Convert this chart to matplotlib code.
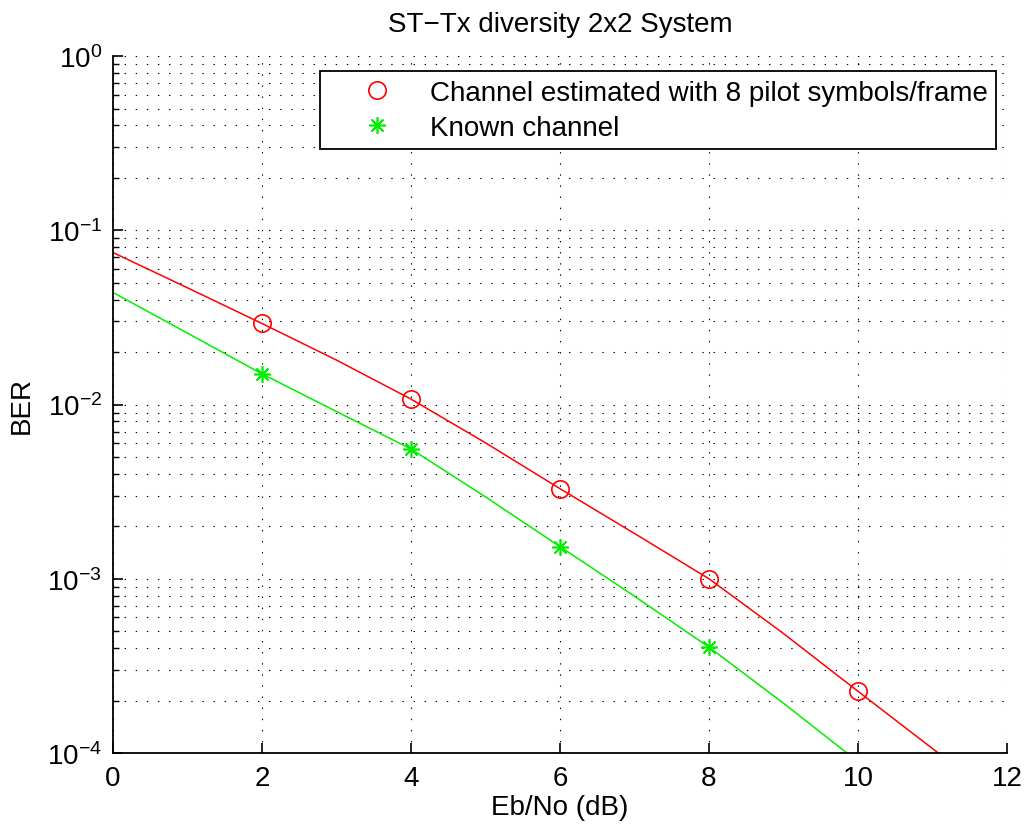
import numpy as np
import matplotlib
matplotlib.use("Agg")
import matplotlib.pyplot as plt
from matplotlib.ticker import LogLocator, NullFormatter

plt.rcParams['font.family'] = ['Liberation Sans', 'DejaVu Sans']

# simulated BER points
snr_pts = [2, 4, 6, 8, 10]
ber_est = [0.0292, 0.01075, 0.00329, 0.00100, 0.000226]
snr_known = [2, 4, 6, 8]
ber_known = [0.0150, 0.00556, 0.00153, 0.000405]

# fitted curves
snr_fit_est = [0, 1, 2, 3, 4, 5, 6, 7, 8, 9, 10, 11, 12]
fit_est = [0.0746, 0.0468, 0.0292, 0.0180, 0.01075, 0.00603, 0.00329,
           0.00182, 0.00100, 0.000485, 0.000226, 0.000106, 0.0000501]
snr_fit_known = [0, 1, 2, 3, 4, 5, 6, 7, 8, 9, 10]
fit_known = [0.0440, 0.0257, 0.0150, 0.00912, 0.00556, 0.00295, 0.00153,
             0.000794, 0.000405, 0.000193, 0.0000891]

fig = plt.figure(figsize=(10.27, 8.28), dpi=100)
ax = fig.add_axes([0.110, 0.0894, 0.8705, 0.8416])

ax.plot(snr_fit_est, fit_est, color='#ff0000', lw=1.1)
ax.plot(snr_fit_known, fit_known, color='#00ee00', lw=1.1)
ax.plot(snr_pts, ber_est, 'o', mfc='none', mec='#ff0000', ms=12.5, mew=1.2,
        label='Channel estimated with 8 pilot symbols/frame')
ax.plot(snr_known, ber_known, ls='none', marker=(8, 2, 0), color='#00ee00',
        ms=12, mew=1.2, label='Known channel')

ax.set_yscale('log')
ax.set_xlim(0, 12)
ax.set_ylim(1e-4, 1)
ax.set_xticks(range(0, 13, 2))
ax.yaxis.set_major_locator(LogLocator(base=10, numticks=10))
ax.yaxis.set_minor_locator(LogLocator(base=10, subs=np.arange(2, 10), numticks=10))
ax.yaxis.set_minor_formatter(NullFormatter())

dots = (0, (1.25, 8.75))
ax.grid(True, which='major', axis='both', color='black', lw=0.8, linestyle=dots)
ax.grid(True, which='minor', axis='y', color='black', lw=0.8, linestyle=dots)

for side in ['top', 'right']:
    ax.spines[side].set_visible(False)
for side in ['left', 'bottom']:
    ax.spines[side].set_linewidth(1.3)
ax.tick_params(which='major', direction='in', length=7, width=1.2,
               labelsize=20, pad=9)
ax.tick_params(which='minor', direction='in', length=4, width=1.0)
ax.tick_params(axis='y', pad=8)

ax.set_title('ST\u2212Tx diversity 2x2 System', fontsize=20, pad=18)
ax.set_xlabel('Eb/No (dB)', fontsize=20, labelpad=2)
ax.set_ylabel('BER', fontsize=20, labelpad=9)

leg = ax.legend(loc='upper right', bbox_to_anchor=(0.9877, 0.978),
                borderaxespad=0, fontsize=20, fancybox=False, framealpha=1,
                edgecolor='black', borderpad=0.3, handlelength=3.5,
                handletextpad=0.15, labelspacing=0.33)
leg.get_frame().set_linewidth(1.3)

fig.savefig('out.png', dpi=100)
